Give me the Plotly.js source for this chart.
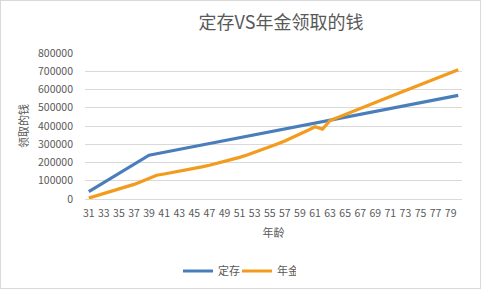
<!DOCTYPE html>
<html><head><meta charset="utf-8">
<script src="https://cdn.plot.ly/plotly-3.0.1.min.js"></script>
<style>
html,body{margin:0;padding:0;background:#fff;}
#wrap{width:481px;height:289px;box-sizing:border-box;border:1px solid #d9d9d9;position:relative;overflow:hidden;}
#chart{position:absolute;left:-1px;top:-1px;width:481px;height:289px;}
</style>
</head><body>
<div id="wrap"><div id="chart"></div></div>
<script>
const ages = [31,32,33,34,35,36,37,38,39,40,41,42,43,44,45,46,47,48,49,50,51,52,53,54,55,56,57,58,59,60,61,62,63,64,65,66,67,68,69,70,71,72,73,74,75,76,77,78,79,80];
const deposit = [40000,65000,90000,115000,140000,165000,190000,215000,240000,248000,256000,264000,272000,280000,288000,296000,304000,312000,320000,328000,336000,344000,352000,360000,368000,376000,384000,392000,400000,408000,416000,424000,432000,440000,448000,456000,464000,472000,480000,488000,496000,504000,512000,520000,528000,536000,544000,552000,560000,568000];
const annuity = [5000,17000,29000,41000,52000,66000,80000,96000,112000,130000,137000,144000,151000,159000,167000,176000,185000,195000,205000,216000,228000,241000,255000,270000,285000,301000,318000,336000,355000,375000,396000,383000,430000,447000,464000,481000,498000,514000,530000,546000,562000,578000,594000,610000,626000,642000,659000,675000,691000,708000];
const seriesNames = ['定存','年金'];
const yTicks = [0,100000,200000,300000,400000,500000,600000,700000,800000];
const xTicks = [31,33,35,37,39,41,43,45,47,49,51,53,55,57,59,61,63,65,67,69,71,73,75,77,79];

const font = "'Noto Sans CJK SC', 'Liberation Sans', sans-serif";
const grey = '#595959';
const traces = [
  {x: ages, y: deposit, name: seriesNames[0], type:'scatter', mode:'lines',
   line:{color:'#4A7EBB', width:3.2}},
  {x: ages, y: annuity, name: seriesNames[1], type:'scatter', mode:'lines',
   line:{color:'#F29B1D', width:3.2}}
];
const layout = {
  width:481, height:289,
  margin:{l:84.5, r:18.5, t:53, b:90.3, pad:0, autoexpand:false},
  paper_bgcolor:'#fff', plot_bgcolor:'#fff',
  font:{family:font, size:10, color:grey},
  title:{text:'定存VS年金领取的钱', font:{family:font, size:18, color:grey},
         x:281/481, xref:'container', xanchor:'center', y:1-23/289, yref:'container', yanchor:'middle'},
  showlegend:true,
  legend:{orientation:'h', x:237/481, xanchor:'center', xref:'container', y:1-271/289, yref:'container', yanchor:'middle',
          font:{family:font, size:11, color:grey}, itemwidth:30, tracegroupgap:0,
          entrywidth:14, entrywidthmode:'pixels'},
  xaxis:{type:'linear', range:[30.5,80.5], tickvals:xTicks, ticktext:xTicks.map(String), automargin:false,
         showgrid:false, zeroline:false, showline:true, linecolor:'#d9d9d9', linewidth:1,
         ticks:'', ticklabelstandoff:4, tickfont:{size:10.5, color:grey},
         title:{text:'年龄', font:{family:font, size:11, color:grey}, standoff:10}},
  yaxis:{range:[0,800000], tickvals:yTicks, tickformat:'d', showgrid:true, gridcolor:'#d9d9d9', gridwidth:1, automargin:false,
         zeroline:false, showline:false, ticks:'', ticklabelstandoff:11, tickfont:{size:10.5, color:grey},
         title:{text:'领取的钱', font:{family:font, size:11, color:grey}, standoff:7}}
};
Plotly.newPlot('chart', traces, layout, {staticPlot:true, displayModeBar:false});
</script>
</body></html>
